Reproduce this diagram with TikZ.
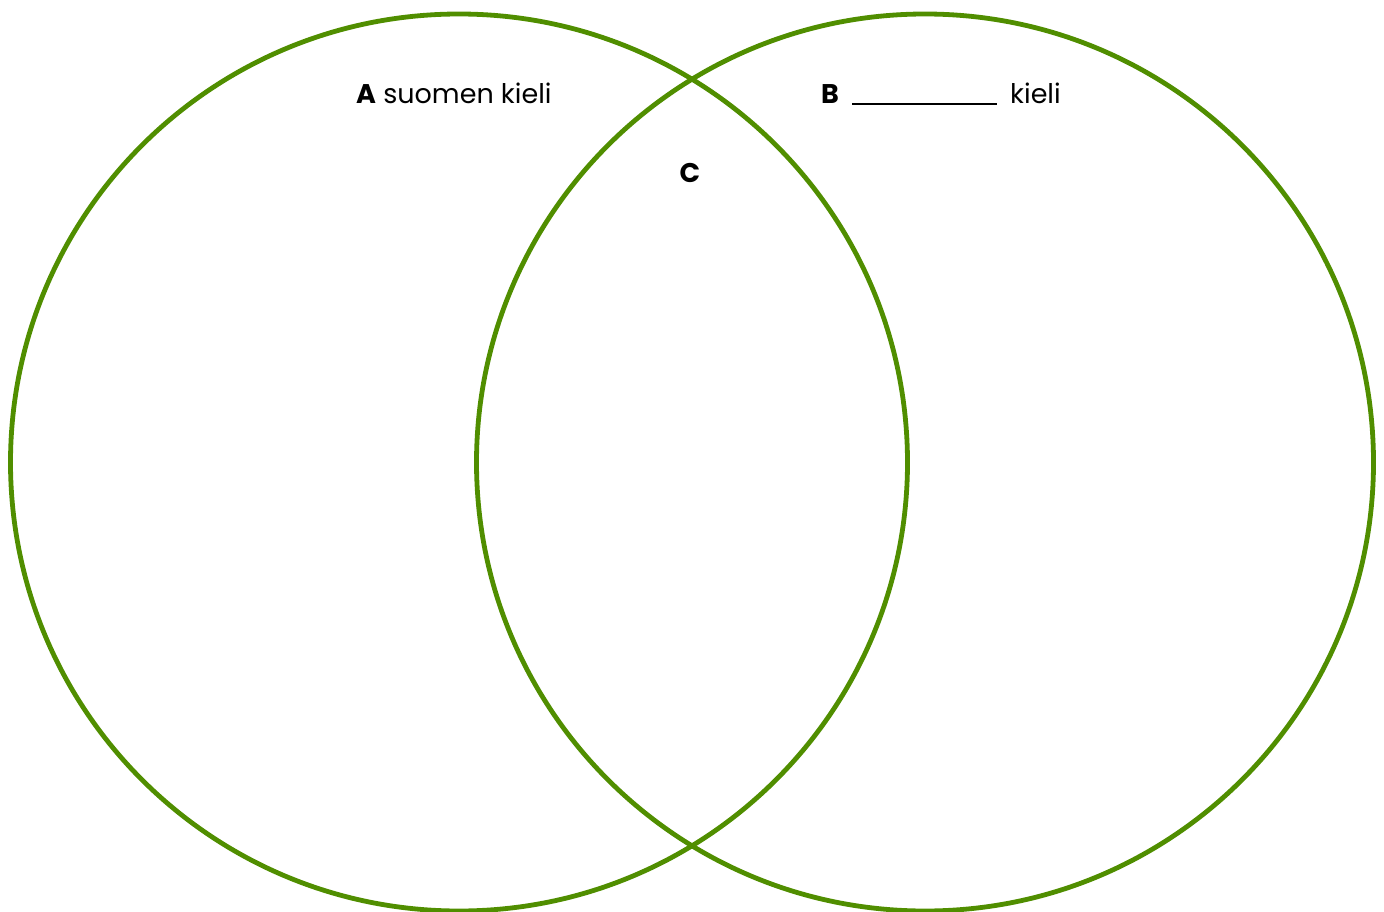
\documentclass[tikz,border=0pt]{standalone}
\usepackage{fontspec}
\setmainfont{Poppins}
\definecolor{venn}{RGB}{80,142,0}
\begin{document}
\begin{tikzpicture}[x=1pt,y=-1pt,
  ring/.style={draw=venn,line width=4.8pt},
  lbl/.style={anchor=base west,inner sep=0pt,font=\fontsize{27}{32}\selectfont}]
\useasboundingbox (0,0) rectangle (1384,912);
\node[ring,circle,minimum size=897pt,inner sep=0pt] (L) at (459,462.5) {};
\node[ring,circle,minimum size=897pt,inner sep=0pt] (R) at (925,462.5) {};
\node[lbl] (a) at (356,104) {\textbf{A} suomen kieli};
\node[lbl] (b) at (821,104) {\textbf{B}};
\coordinate (u1) at (852,104);
\coordinate (u2) at (997,104);
\draw[line width=1.8pt] (u1) -- (u2);
\node[lbl] (k) at (1010,104) {kieli};
\node[lbl,anchor=base] (c) at (690,183) {\textbf{C}};
\end{tikzpicture}
\end{document}
